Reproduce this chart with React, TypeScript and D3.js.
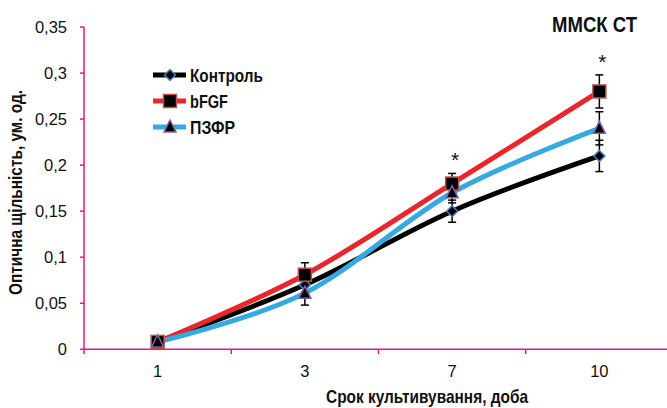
import React from 'react';
import * as d3 from 'd3';

// дані з графіка
const days = ['1', '3', '7', '10'];
const control = [0.008, 0.07, 0.15, 0.21];
const controlErr = [0.002, 0.008, 0.012, 0.017];
const bfgf = [0.008, 0.081, 0.18, 0.28];
const bfgfErr = [0.002, 0.013, 0.011, 0.018];
const pzfr = [0.008, 0.061, 0.17, 0.24];
const pzfrErr = [0.002, 0.013, 0.011, 0.018];
const yTicks = [0, 0.05, 0.1, 0.15, 0.2, 0.25, 0.3, 0.35];
const starDays = ['7', '10'];

const W = 667;
const H = 408;
const AXIS = '#ea158c';
const FONT = "'Liberation Sans', Arial, sans-serif";

const series = [
  { name: 'Контроль', values: control, err: controlErr, color: '#000000', marker: 'diamond', mFill: '#000', mStroke: '#4a7ebb', len: 73 },
  { name: 'bFGF', values: bfgf, err: bfgfErr, color: '#e8262b', marker: 'square', mFill: '#000', mStroke: '#c0504d', len: 38 },
  { name: 'ПЗФР', values: pzfr, err: pzfrErr, color: '#36a9e1', marker: 'triangle', mFill: '#000', mStroke: '#8064a2', len: 45 },
];

const fmt = (v: number) => (v === 0 ? '0' : String(+v.toFixed(2)).replace('.', ','));

function Marker({ type, x, y, fill, stroke }: { type: string; x: number; y: number; fill: string; stroke: string }) {
  if (type === 'square') {
    return <rect x={x - 6.5} y={y - 6.5} width={13} height={13} fill={fill} stroke={stroke} strokeWidth={1.5} />;
  }
  if (type === 'triangle') {
    const p = `${x},${y - 7} ${x + 6},${y + 5} ${x - 6},${y + 5}`;
    return <polygon points={p} fill={fill} stroke={stroke} strokeWidth={1.5} />;
  }
  const p = `${x},${y - 5.5} ${x + 5.5},${y} ${x},${y + 5.5} ${x - 5.5},${y}`;
  return <polygon points={p} fill={fill} stroke={stroke} strokeWidth={1.5} />;
}

export default function App() {
  const x = d3.scaleBand<string>().domain(days).range([84, 673]).padding(0);
  const y = d3.scaleLinear().domain([0, 0.35]).range([349.3, 27]);
  const cx = (d: string) => (x(d) || 0) + x.bandwidth() / 2;

  const line = d3
    .line<number>()
    .x((_, i) => cx(days[i]))
    .y(v => y(v))
    .curve(d3.curveCardinal.tension(0));

  const bounds = days.map(d => x(d) || 0).concat([673]);

  return (
    <svg width={W} height={H} style={{ position: 'absolute', left: 0, top: 0, background: '#fff' }} fontFamily={FONT}>
      {/* осі */}
      <line x1={84} x2={84} y1={27} y2={349.3} stroke={AXIS} strokeWidth={1.5} />
      <line x1={84} x2={673} y1={349.3} y2={349.3} stroke={AXIS} strokeWidth={1.5} />
      {yTicks.map(t => (
        <g key={t}>
          <line x1={80} x2={84} y1={y(t)} y2={y(t)} stroke={AXIS} strokeWidth={1.5} />
          <text x={67} y={y(t) + 6} textAnchor="end" fontSize={16.5} fill="#111">
            {fmt(t)}
          </text>
        </g>
      ))}
      {bounds.map((b, i) => (
        <line key={i} x1={b} x2={b} y1={349.3} y2={354} stroke={AXIS} strokeWidth={1.5} />
      ))}
      {days.map(d => (
        <text key={d} x={cx(d)} y={377} textAnchor="middle" fontSize={16.5} fill="#111">
          {d}
        </text>
      ))}

      {/* лінії */}
      {series.map(s => (
        <path key={s.name} d={line(s.values) || ''} fill="none" stroke={s.color} strokeWidth={5} />
      ))}

      {/* похибки */}
      {series.map(s =>
        s.values.map((v, i) => {
          const px = cx(days[i]);
          const top = y(v + s.err[i]);
          const bot = y(v - s.err[i]);
          return (
            <g key={s.name + i} stroke="#000" strokeWidth={1.5}>
              <line x1={px} x2={px} y1={top} y2={bot} />
              <line x1={px - 4} x2={px + 4} y1={top} y2={top} />
              <line x1={px - 4} x2={px + 4} y1={bot} y2={bot} />
            </g>
          );
        })
      )}

      {/* маркери */}
      {series.map(s =>
        s.values.map((v, i) => (
          <Marker key={s.name + 'm' + i} type={s.marker} x={cx(days[i])} y={y(v)} fill={s.mFill} stroke={s.mStroke} />
        ))
      )}

      {/* зірочки */}
      {starDays.map(d => {
        const i = days.indexOf(d);
        const top = y(bfgf[i] + bfgfErr[i]);
        return (
          <text key={d} x={cx(d) + 3} y={top - 6} textAnchor="middle" fontSize={21} fill="#111">
            *
          </text>
        );
      })}

      {/* легенда */}
      {series.map((s, i) => {
        const ly = 75 + i * 26;
        return (
          <g key={s.name}>
            <line x1={153} x2={186} y1={ly} y2={ly} stroke={s.color} strokeWidth={5} />
            <Marker type={s.marker} x={170} y={ly} fill={s.mFill} stroke={s.mStroke} />
            <text x={190} y={ly + 6.5} fontSize={18} fontWeight="bold" fill="#111" textLength={s.len} lengthAdjust="spacingAndGlyphs">
              {s.name}
            </text>
          </g>
        );
      })}

      <text x={552} y={32} fontSize={22} fontWeight="bold" fill="#111" textLength={85} lengthAdjust="spacingAndGlyphs">
        ММСК СТ
      </text>

      <text x={326} y={403} fontSize={19} fontWeight="bold" fill="#111" textLength={202} lengthAdjust="spacingAndGlyphs">
        Срок культивування, доба
      </text>
      <text
        transform={`translate(22,295) rotate(-90)`}
        fontSize={18}
        fontWeight="bold"
        fill="#111"
        textLength={205}
        lengthAdjust="spacingAndGlyphs"
      >
        Оптична щільність, ум. од.
      </text>
    </svg>
  );
}
